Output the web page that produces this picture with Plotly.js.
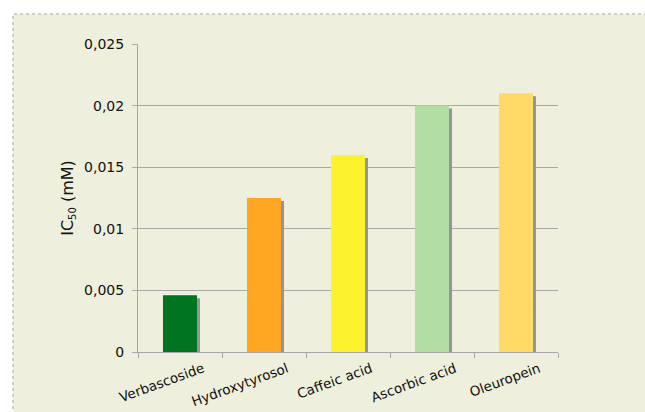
<!DOCTYPE html>
<html>
<head>
<meta charset="utf-8">
<script src="https://cdn.plot.ly/plotly-3.0.1.min.js"></script>
<style>
  html, body { margin: 0; padding: 0; background: #ffffff; }
  #chart { width: 645px; height: 412px; }
</style>
</head>
<body>
<div id="chart"></div>
<script>
// IC50 values (mM) per compound
const compounds = ['Verbascoside', 'Hydroxytyrosol', 'Caffeic acid', 'Ascorbic acid', 'Oleuropein'];
const ic50 = [0.0046, 0.0125, 0.016, 0.02, 0.021];
const barColors = ['#007420', '#FFA722', '#FCF22E', '#B3DEA2', '#FFDA66'];
const yTicks = [0, 0.005, 0.01, 0.015, 0.02, 0.025];

// Plot geometry (px) used to place the drop shadow a few pixels down/right
const plotHeight = 308;
const catWidth = 84;
const shadowPx = 3;
const yMax = 0.025;
const yShift = yMax * shadowPx / plotHeight;

const barWidth = 0.405;
const barOffset = -barWidth / 2;

// grey drop shadow: same bar lengths, moved down and to the right
const shadow = {
  type: 'bar',
  x: compounds,
  y: ic50,
  base: -yShift,
  width: barWidth,
  offset: barOffset + shadowPx / catWidth,
  marker: { color: '#959595', line: { width: 0 } },
  hoverinfo: 'skip',
  showlegend: false
};

const bars = {
  type: 'bar',
  x: compounds,
  y: ic50,
  width: barWidth,
  offset: barOffset,
  marker: { color: barColors, line: { width: 0 } },
  showlegend: false
};

const axisGrey = '#A8A8A8';
const fam = 'DejaVu Sans, Verdana, sans-serif';
const ink = '#111111';

const layout = {
  width: 645,
  height: 412,
  margin: { l: 138, r: 87, t: 44, b: 60 },
  paper_bgcolor: '#ffffff',
  plot_bgcolor: 'rgba(0,0,0,0)',
  separators: ', ',
  font: { family: fam, size: 13, color: ink },
  barmode: 'overlay',
  showlegend: false,
  xaxis: {
    type: 'category',
    range: [-0.5, 4.5],
    showline: true,
    linecolor: axisGrey,
    linewidth: 1,
    ticks: 'outside',
    tickson: 'boundaries',
    ticklen: 5,
    tickcolor: axisGrey,
    tickangle: -20,
    ticklabelshift: 23,
    ticklabelstandoff: 3,
    showgrid: false,
    zeroline: false,
    tickfont: { family: fam, size: 13.5, color: ink },
    fixedrange: true
  },
  yaxis: {
    range: [0, yMax],
    tickvals: yTicks,
    showline: true,
    linecolor: axisGrey,
    linewidth: 1,
    ticks: 'outside',
    ticklen: 5,
    tickcolor: axisGrey,
    ticklabelstandoff: 5,
    showgrid: true,
    gridcolor: axisGrey,
    gridwidth: 1,
    zeroline: false,
    tickfont: { family: fam, size: 14, color: ink },
    title: {
      text: 'IC<sub><span style="font-size:10px">50</span></sub> (mM)',
      font: { family: fam, size: 16, color: ink },
      standoff: 6
    },
    fixedrange: true
  },
  shapes: [
    {
      type: 'rect',
      xref: 'paper', yref: 'paper',
      x0: -125 / 420, x1: 1.3,
      y0: -0.5, y1: 1 + 30 / 308,
      layer: 'below',
      fillcolor: '#EEEFDC',
      line: { color: '#C6D3C0', width: 2, dash: 'dot' }
    }
  ]
};

Plotly.newPlot('chart', [shadow, bars], layout, { displayModeBar: false, staticPlot: true });
</script>
</body>
</html>
